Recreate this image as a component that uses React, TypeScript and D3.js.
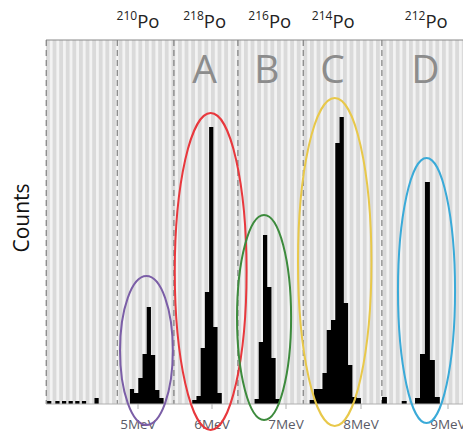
import React from 'react';
import * as d3 from 'd3';

// channel width of the spectrum, in MeV
const BIN = 0.057;

// isotope labels above the plot
const isotopeMass = ['210', '218', '216', '214', '212'];
const isotopeEnergy = [5.0, 5.9, 6.78, 7.63, 8.75];

// region letters
const regionLetters = ['A', 'B', 'C', 'D'];
const regionLetterEnergy = [5.9, 6.74, 7.62, 8.74];

// dashed region boundaries (MeV)
const regionBounds = [3.76, 4.72, 5.485, 6.35, 7.23, 8.24];

const energyTicks = [5, 6, 7, 8, 9];

// peak histograms: first bin energy + counts per bin
const po210Start = 4.89;
const po210Counts = [15, 11, 26, 50, 97, 49, 14, 6];
const po218Start = 5.733;
const po218Counts = [4, 8, 56, 112, 277, 77, 11];
const po216Start = 6.575;
const po216Counts = [5, 62, 169, 117, 46, 5];
const po214Start = 7.315;
const po214Counts = [4, 15, 15, 31, 74, 84, 261, 287, 101, 39, 7, 6];
const po212Start = 8.621;
const po212Counts = [6, 50, 222, 44, 7];

// stray low counts outside the peaks
const strayEnergy = [3.772, 3.883, 3.973, 4.062, 4.152, 4.242, 4.412, 8.241, 8.468];
const strayCounts = [3, 3, 3, 3, 3, 3, 6, 7, 3];

// annotation ellipses (energy centre, half width MeV, count centre, half height counts)
const ellipseEnergy = [5.114, 5.982, 6.703, 7.64, 8.753];
const ellipseHalfWidth = [0.357, 0.485, 0.365, 0.48, 0.328];
const ellipseCount = [53.5, 132.5, 86.5, 142, 113.5];
const ellipseHalfHeight = [74.5, 158.5, 102.5, 164, 132.5];

const ellipseColors = ['#7b5ea7', '#e8383d', '#3d8b3d', '#e8c84a', '#3aaad8'];

const W = 463;
const H = 433;
const plotLeft = 46;
const plotTop = 40;
const baseY = 404;

export default function App() {
  const x = d3.scaleLinear().domain(energyTicks).range([138, 212, 286, 361, 448]);
  const y = d3.scaleLinear().domain([0, 364]).range([baseY, plotTop]);

  const peaks = [
    { start: po210Start, counts: po210Counts },
    { start: po218Start, counts: po218Counts },
    { start: po216Start, counts: po216Counts },
    { start: po214Start, counts: po214Counts },
    { start: po212Start, counts: po212Counts },
  ];

  // each peak drawn as one stepped area so the bins don't show seams
  const area = d3.area<{ e: number; c: number }>()
    .x(d => x(d.e))
    .y0(y(0))
    .y1(d => y(d.c))
    .curve(d3.curveStepAfter);

  const peakPaths = peaks.map(p => {
    const pts = p.counts.map((c, i) => ({ e: p.start + i * BIN, c }));
    pts.push({ e: p.start + p.counts.length * BIN, c: p.counts[p.counts.length - 1] });
    return area(pts) || '';
  });

  const font = '"Open Sans", "DejaVu Sans", sans-serif';

  return (
    <svg width={W} height={H} style={{ position: 'absolute', left: 0, top: 0, background: '#fff' }}>
      <defs>
        <pattern id="stripes" patternUnits="userSpaceOnUse" x={plotLeft} y={0} width={6.6} height={10}>
          <rect width={6.6} height={10} fill="#f3f3f3" />
          <rect x={0} width={3.8} height={10} fill="#dadada" />
        </pattern>
      </defs>

      {/* plot background */}
      <rect x={plotLeft} y={plotTop} width={W - plotLeft} height={baseY - plotTop} fill="url(#stripes)" />
      <line x1={plotLeft} x2={W} y1={plotTop} y2={plotTop} stroke="#8a8a8a" strokeWidth={1.2} />

      {/* region boundaries */}
      {regionBounds.map((e, i) => (
        <line key={'b' + i} x1={x(e)} x2={x(e)} y1={plotTop} y2={baseY}
          stroke="#7f7f7f" strokeWidth={1.2} strokeDasharray="6,4" />
      ))}

      {/* histogram */}
      {peakPaths.map((d, i) => (
        <path key={'p' + i} d={d} fill="#000" />
      ))}
      {strayEnergy.map((e, i) => (
        <rect key={'s' + i} x={x(e)} width={x(e + BIN) - x(e)}
          y={y(strayCounts[i])} height={y(0) - y(strayCounts[i])} fill="#000" />
      ))}

      {/* x axis */}
      <line x1={plotLeft} x2={W} y1={baseY} y2={baseY} stroke="#b0b0b0" strokeWidth={1} />
      {energyTicks.map(t => (
        <g key={'t' + t}>
          <line x1={x(t)} x2={x(t)} y1={baseY} y2={baseY + 5} stroke="#b0b0b0" />
          <text x={x(t)} y={429} textAnchor="middle" fontFamily={font} fontSize={13.5} fill="#5a5a66">
            {t}MeV
          </text>
        </g>
      ))}

      {/* region letters */}
      {regionLetters.map((l, i) => (
        <text key={'l' + l} x={x(regionLetterEnergy[i])} y={83} textAnchor="middle"
          fontFamily={font} fontSize={39} fill="#8c8c8c">{l}</text>
      ))}

      {/* ellipses */}
      {ellipseEnergy.map((e, i) => {
        const x0 = x(e - ellipseHalfWidth[i]);
        const x1 = x(e + ellipseHalfWidth[i]);
        return (
          <ellipse key={'e' + i} cx={(x0 + x1) / 2} cy={y(ellipseCount[i])}
            rx={(x1 - x0) / 2} ry={y(0) - y(ellipseHalfHeight[i])}
            fill="none" stroke={ellipseColors[i]} strokeWidth={2} />
        );
      })}

      {/* isotope labels */}
      {isotopeMass.map((m, i) => (
        <text key={'i' + m} x={x(isotopeEnergy[i])} y={28} textAnchor="middle"
          fontFamily={font} fill="#222">
          <tspan fontSize={12} dy={-8}>{m}</tspan>
          <tspan fontSize={18.5} dy={8}>Po</tspan>
        </text>
      ))}

      {/* y label */}
      <text transform="translate(29,218) rotate(-90)" textAnchor="middle"
        fontFamily={font} fontSize={21} fill="#111">Counts</text>
    </svg>
  );
}
